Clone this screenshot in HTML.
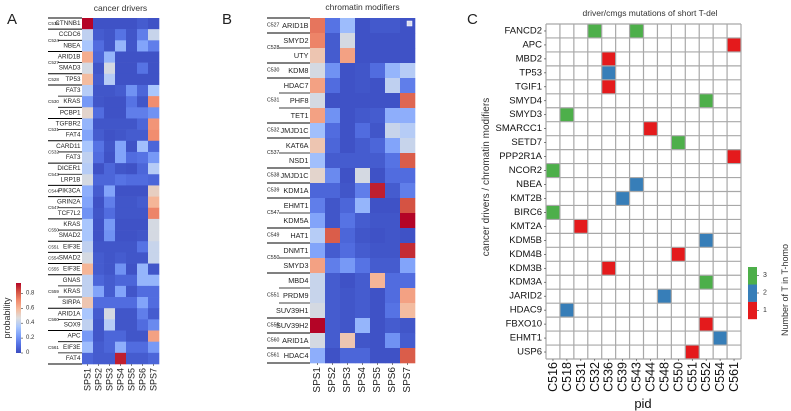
<!DOCTYPE html>
<html><head><meta charset="utf-8"><style>
html,body{margin:0;padding:0;background:#fff;width:791px;height:411px;overflow:hidden}
svg{display:block;font-family:"Liberation Sans",sans-serif}
</style></head><body>
<svg id="fig" width="791" height="411" viewBox="0 0 791 411" xmlns="http://www.w3.org/2000/svg"></svg>
<script>
const spsCols = ["SPS1","SPS2","SPS3","SPS4","SPS5","SPS6","SPS7"];
const aGroups = [["C519",["CTNNB1"]],["C524",["CCDC6","NBEA"]],["C527",["ARID1B","SMAD3"]],["C528",["TP53"]],["C530",["FAT3","KRAS","PCBP1"]],["C531",["TGFBR2","FAT4"]],["C532",["CARD11","FAT3"]],["C543",["DICER1","LRP1B"]],["C544",["PIK3CA"]],["C547",["GRIN2A","TCF7L2"]],["C550",["KRAS","SMAD2"]],["C551",["EIF3E"]],["C554",["SMAD2"]],["C555",["EIF3E"]],["C559",["GNAS","KRAS","SIRPA"]],["C560",["ARID1A","SOX9"]],["C561",["APC","EIF3E","FAT4"]]];
const aValues = [
[.95,.02,.02,.02,.02,.05,.02],[.4,.05,.03,.12,.03,.15,.42],[.35,.1,.03,.3,.03,.25,.15],
[.62,.08,.3,.02,.02,.02,.02],[.45,.03,.45,.02,.02,.12,.02],[.58,.05,.38,.02,.02,.02,.02],
[.38,.03,.03,.05,.2,.08,.35],[.22,.03,.02,.02,.12,.03,.7],[.5,.1,.02,.02,.15,.15,.2],
[.3,.03,.03,.03,.03,.08,.68],[.25,.05,.02,.03,.05,.05,.7],[.35,.12,.03,.25,.02,.33,.08],
[.4,.1,.02,.25,.1,.12,.22],[.38,.02,.08,.03,.02,.08,.38],[.45,.08,.08,.12,.1,.1,.08],
[.28,.05,.25,.02,.02,.02,.52],[.25,.02,.15,.03,.03,.05,.6],[.2,.03,.1,.03,.03,.03,.72],
[.35,.02,.22,.02,.02,.02,.45],[.35,.02,.2,.02,.02,.03,.45],[.4,.03,.03,.03,.03,.12,.42],
[.45,.05,.03,.05,.03,.03,.42],[.6,.05,.03,.2,.02,.3,.03],[.4,.08,.05,.08,.08,.3,.3],
[.4,.25,.05,.25,.03,.1,.1],[.55,.1,.1,.1,.1,.25,.1],[.35,.05,.45,.03,.03,.15,.05],
[.4,.03,.38,.03,.03,.1,.18],[.22,.03,.08,.08,.03,.03,.65],[.32,.05,.08,.28,.1,.1,.22],
[.08,.05,.05,.9,.05,.05,.08]];
const bGroups = [["C527",["ARID1B"]],["C528",["SMYD2","UTY"]],["C530",["KDM8"]],["C531",["HDAC7","PHF8","TET1"]],["C532",["JMJD1C"]],["C537",["KAT6A","NSD1"]],["C538",["JMJD1C"]],["C539",["KDM1A"]],["C547",["EHMT1","KDM5A"]],["C549",["HAT1"]],["C550",["DNMT1","SMYD3"]],["C551",["MBD4","PRDM9","SUV39H1"]],["C555",["SUV39H2"]],["C560",["ARID1A"]],["C561",["HDAC4"]]];
const bValues = [
[.75,.12,.32,.02,.04,.04,.02],[.72,.05,.45,.02,.02,.02,.02],[.55,.05,.65,.02,.02,.02,.02],
[.45,.2,.02,.03,.1,.3,.38],[.65,.1,.02,.03,.02,.4,.15],[.45,.02,.02,.02,.02,.02,.78],
[.65,.2,.02,.04,.05,.28,.28],[.33,.1,.02,.1,.03,.42,.38],[.55,.08,.02,.05,.08,.25,.42],
[.33,.05,.05,.05,.05,.12,.8],[.5,.18,.02,.45,.02,.1,.1],[.08,.08,.03,.15,.9,.05,.15],
[.15,.03,.08,.3,.02,.02,.82],[.25,.03,.12,.05,.03,.03,.95],[.38,.8,.08,.03,.02,.03,.02],
[.25,.05,.1,.05,.03,.03,.88],[.65,.15,.22,.12,.05,.05,.25],[.42,.05,.02,.05,.6,.1,.1],
[.42,.05,.03,.05,.02,.1,.65],[.45,.05,.03,.05,.02,.12,.58],[.98,.05,.03,.3,.02,.05,.03],
[.45,.05,.55,.03,.02,.2,.05],[.28,.02,.08,.08,.02,.02,.8]];
const cGenes = ["FANCD2","APC","MBD2","TP53","TGIF1","SMYD4","SMYD3","SMARCC1","SETD7","PPP2R1A","NCOR2","NBEA","KMT2B","BIRC6","KMT2A","KDM5B","KDM4B","KDM3B","KDM3A","JARID2","HDAC9","FBXO10","EHMT1","USP6"];
const cPids = ["C516","C518","C531","C532","C536","C539","C543","C544","C548","C550","C551","C552","C554","C561"];
const cCells = [["FANCD2","C532",3],["FANCD2","C543",3],["APC","C561",1],["MBD2","C536",1],["TP53","C536",2],["TGIF1","C536",1],["SMYD4","C552",3],["SMYD3","C518",3],["SMARCC1","C544",1],["SETD7","C550",3],["PPP2R1A","C561",1],["NCOR2","C516",3],["NBEA","C543",2],["KMT2B","C539",2],["BIRC6","C516",3],["KMT2A","C531",1],["KDM5B","C552",2],["KDM4B","C550",1],["KDM3B","C536",1],["KDM3A","C552",3],["JARID2","C548",2],["HDAC9","C518",2],["FBXO10","C552",1],["EHMT1","C554",2],["USP6","C551",1]];
const probTicks = [0,0.2,0.4,0.6,0.8];
const countTicks = [1,2,3];

const NS="http://www.w3.org/2000/svg", svg=document.getElementById('fig');
function mk(tag,attrs,parent,text){const e=document.createElementNS(NS,tag);for(const k in attrs)e.setAttribute(k,attrs[k]);if(text!==undefined)e.textContent=text;(parent||svg).appendChild(e);return e;}
const stops=[[0,[58,76,192]],[.125,[85,114,228]],[.25,[124,159,249]],[.375,[170,199,253]],[.5,[221,221,221]],[.625,[245,186,156]],[.75,[241,139,109]],[.875,[212,82,66]],[1,[180,4,38]]];
function coolwarm(v){v=Math.max(0,Math.min(1,v));for(let i=1;i<stops.length;i++){if(v<=stops[i][0]){const a=stops[i-1],b=stops[i],t=(v-a[0])/(b[0]-a[0]);const c=a[1].map((x,j)=>Math.round(x+(b[1][j]-x)*t));return `rgb(${c})`;}}return 'rgb(180,4,38)';}
const VMAX=0.94;

function heatmap(cfg){
  const g=mk('g',{});
  
  
  const nR=cfg.values.length, cw=(cfg.x1-cfg.x0)/7, rh=(cfg.y1-cfg.y0)/nR;
  const xs=i=>cfg.x0+i*cw, ys=r=>cfg.y0+r*rh;
  cfg.values.forEach((row,r)=>row.forEach((v,c)=>{
    const rc=mk('rect',{x:xs(c),y:ys(r),width:cw+0.3,height:rh+0.3,fill:coolwarm(v/VMAX)},g);
    
    
  }));
  // column labels
  spsCols.forEach((s,c)=>{
    const cx=xs(c)+cw/2;
    mk('line',{x1:cx,y1:cfg.y1,x2:cx,y2:cfg.y1+2,stroke:'#333','stroke-width':0.6},g);
    const t=mk('text',{x:0,y:0,'font-size':cfg.colFs,'text-anchor':'end','dominant-baseline':'central',transform:`translate(${cx},${cfg.y1+4}) rotate(-90)`,fill:'#222'},g,s);
    
    
  });
  // groups
  let r=0;
  cfg.groups.forEach(([sample,genes])=>{
    const top=ys(r);
    mk('line',{x1:cfg.lineX,y1:top,x2:cfg.x0,y2:top,stroke:'#000','stroke-width':1},g);
    genes.forEach((gn,i)=>{
      const y=ys(r)+rh/2;
      if(i>0) mk('line',{x1:cfg.lineX+cfg.subOff,y1:ys(r),x2:cfg.x0,y2:ys(r),stroke:'#000','stroke-width':0.8},g);
      const t=mk('text',{x:cfg.x0-1.5,y:y,'font-size':cfg.geneFs,'text-anchor':'end','dominant-baseline':'central',fill:'#222'},g,gn);
      
      
      r++;
    });
    const cy=(top+ys(r))/2;
    const st=mk('text',{x:cfg.lineX,y:cy,'font-size':cfg.sampFs,'dominant-baseline':'central',fill:'#222'},g,sample);
    
    
  });
  mk('line',{x1:cfg.lineX,y1:cfg.y1,x2:cfg.x0,y2:cfg.y1,stroke:'#000','stroke-width':1},g);
  const tt=mk('text',{x:(cfg.x0+cfg.x1)/2,y:cfg.titleY,'font-size':8.5,'text-anchor':'middle',fill:'#333'},g,cfg.title);
  
  
}
heatmap({name:'heatmap-cancer-drivers',x0:82,x1:159,y0:18,y1:364,values:aValues,groups:aGroups,lineX:48,subOff:10,geneFs:6.3,sampFs:4.6,colFs:9,title:'cancer drivers',titleY:11});
heatmap({name:'heatmap-chromatin-modifiers',x0:310,x1:415,y0:18,y1:363,values:bValues,groups:bGroups,lineX:267,subOff:12,geneFs:7.3,sampFs:5.2,colFs:10,title:'chromatin modifiers',titleY:10});
// small light square in B
mk('rect',{x:407,y:21,width:5,height:5,fill:'#dde',stroke:'#fff','stroke-width':0.5});

// probability colorbar
(function(){
  const g=mk('g',{});
  
  
  const defs=mk('defs',{},g);
  const lg=mk('linearGradient',{id:'cw',x1:0,y1:1,x2:0,y2:0},defs);
  stops.forEach(s=>mk('stop',{offset:s[0],'stop-color':`rgb(${s[1]})`},lg));
  const y0=353,y1=283,sc=v=>y0-(v/VMAX)*(y0-y1);
  mk('rect',{x:16,y:y1,width:5,height:y0-y1,fill:'url(#cw)'},g);
  probTicks.forEach(v=>{
    mk('line',{x1:21,y1:sc(v),x2:23,y2:sc(v),stroke:'#333','stroke-width':0.6},g);
    const t=mk('text',{x:26,y:sc(v),'font-size':6,'dominant-baseline':'central',fill:'#333'},g,String(v));
    
    
  });
  const lab=mk('text',{x:0,y:0,'font-size':9,'text-anchor':'middle',transform:'translate(10,318) rotate(-90)',fill:'#333'},g,'probability');
  
  
})();

// panel C
(function(){
  const g=mk('g',{});
  
  
  const x0=546,x1=741,y0=24,y1=359;
  const cw=(x1-x0)/cPids.length, rh=(y1-y0)/cGenes.length;
  const xs=p=>x0+cPids.indexOf(p)*cw, ys=gn=>y0+cGenes.indexOf(gn)*rh;
  const colors={1:'#e41a1c',2:'#377eb8',3:'#4daf4a'};
  mk('rect',{x:x0,y:y0,width:x1-x0,height:y1-y0,fill:'#fff'},g);
  cCells.forEach(([gn,p,v])=>{
    const r=mk('rect',{x:xs(p),y:ys(gn),width:cw,height:rh,fill:colors[v]},g);
    
    
  });
  for(let i=0;i<=cPids.length;i++) mk('line',{x1:x0+i*cw,y1:y0,x2:x0+i*cw,y2:y1,stroke:'#a8a8a8','stroke-width':1.2},g);
  for(let i=0;i<=cGenes.length;i++) mk('line',{x1:x0,y1:y0+i*rh,x2:x1,y2:y0+i*rh,stroke:'#a8a8a8','stroke-width':1.2},g);
  cGenes.forEach(gn=>{
    const y=ys(gn)+rh/2;
    mk('line',{x1:x0-2,y1:y,x2:x0,y2:y,stroke:'#333','stroke-width':0.6},g);
    const t=mk('text',{x:x0-4,y:y,'font-size':9.5,'text-anchor':'end','dominant-baseline':'central',fill:'#111'},g,gn);
    
    
  });
  cPids.forEach(p=>{
    const x=xs(p)+cw/2;
    mk('line',{x1:x,y1:y1,x2:x,y2:y1+2,stroke:'#333','stroke-width':0.6},g);
    const t=mk('text',{x:0,y:0,'font-size':12.5,'text-anchor':'end','dominant-baseline':'central',transform:`translate(${x},${y1+3}) rotate(-90)`,fill:'#111'},g,p);
    
    
  });
  const xt=mk('text',{x:643,y:408,'font-size':13,'text-anchor':'middle',fill:'#111'},g,'pid');
  
  
  const yt=mk('text',{x:0,y:0,'font-size':10,'text-anchor':'middle',transform:'translate(489,177) rotate(-90)',fill:'#333'},g,'cancer drivers / chromatin modifiers');
  
  
  const tt=mk('text',{x:650,y:16,'font-size':8.5,'text-anchor':'middle',fill:'#333'},g,'driver/cmgs mutations of short T-del');
  
  
  // legend colorbar
  const cb0=267,cbh=(319-267)/3;
  countTicks.forEach(v=>{
    const y=cb0+(3-v)*cbh;
    const r=mk('rect',{x:748,y:y,width:9,height:cbh+0.2,fill:colors[v]},g);
    
    
    mk('line',{x1:757,y1:y+cbh/2,x2:759,y2:y+cbh/2,stroke:'#333','stroke-width':0.6},g);
    const t=mk('text',{x:763,y:y+cbh/2,'font-size':7,'dominant-baseline':'central',fill:'#333'},g,String(v));
    
    
  });
  const lt=mk('text',{x:0,y:0,'font-size':9,'text-anchor':'middle',transform:'translate(788,290) rotate(-90)',fill:'#333'},g,'Number of T in T-homo');
  
  
})();
[['A',7,24],['B',222,24],['C',467,24]].forEach(([l,x,y])=>{
  const t=mk('text',{x:x,y:y,'font-size':15,fill:'#222'},svg,l);
  
  
});
</script>
</body></html>
